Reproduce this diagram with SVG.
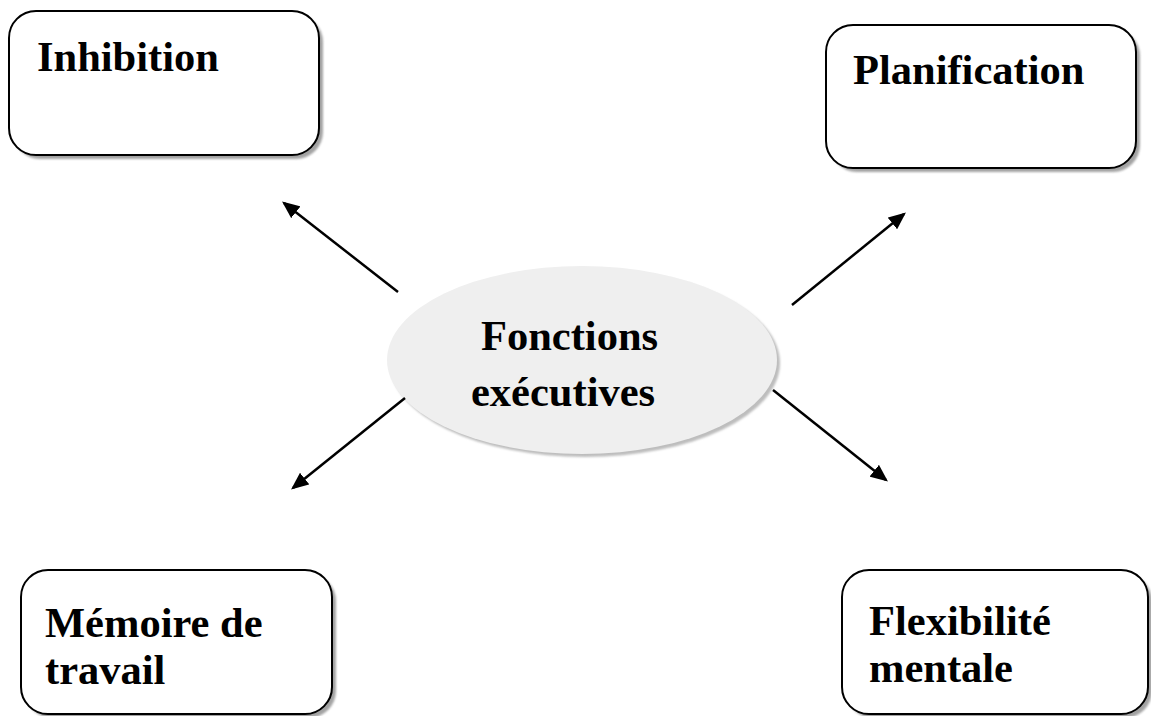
<svg xmlns="http://www.w3.org/2000/svg" width="1151" height="716" viewBox="0 0 1151 716">
<style>
.box{fill:#fff;stroke:#000;stroke-width:2}
.shadow{fill:#8c8c8c;opacity:0.8}
.lbl{font-family:"Liberation Serif","Times New Roman",serif;font-weight:bold;font-size:42.5px;fill:#000}
.conn{stroke:#000;stroke-width:2.5;fill:none;marker-end:url(#ah)}
</style>
<defs>
<marker id="ah" markerWidth="7" markerHeight="6" refX="6" refY="3" orient="auto" markerUnits="strokeWidth">
<path d="M0,0 L7,3 L0,6 Z" fill="#000"/>
</marker>
<filter id="blur" x="-10%" y="-10%" width="120%" height="120%"><feGaussianBlur stdDeviation="0.9"/></filter>
</defs>
<rect width="1151" height="716" fill="#fff"/>
<g id="inhibition">
<rect class="shadow" x="13" y="15" width="310" height="144" rx="27" filter="url(#blur)"/>
<rect class="box" x="9" y="11" width="310" height="144" rx="27"/>
<text class="lbl" x="37" y="71">Inhibition</text>
</g>
<g id="planification">
<rect class="shadow" x="830" y="29" width="310" height="143" rx="27" filter="url(#blur)"/>
<rect class="box" x="826" y="25" width="310" height="143" rx="27"/>
<text class="lbl" x="853" y="84">Planification</text>
</g>
<g id="fonctions">
<ellipse cx="585" cy="363" rx="195" ry="94" fill="#bdbdbd" filter="url(#blur)"/>
<ellipse cx="582" cy="360" rx="195" ry="94" fill="#efefef"/>
<text class="lbl" x="481" y="350">Fonctions</text>
<text class="lbl" x="471" y="406">exécutives</text>
</g>
<g id="memoire">
<rect class="shadow" x="25" y="574" width="311" height="144" rx="27" filter="url(#blur)"/>
<rect class="box" x="21" y="570" width="311" height="144" rx="27"/>
<text class="lbl" x="45" y="637">Mémoire de</text>
<text class="lbl" x="45" y="684">travail</text>
</g>
<g id="flexibilite">
<rect class="shadow" x="846" y="574" width="306" height="144" rx="27" filter="url(#blur)"/>
<rect class="box" x="842" y="570" width="306" height="144" rx="27"/>
<text class="lbl" x="869" y="635">Flexibilité</text>
<text class="lbl" x="869" y="682">mentale</text>
</g>
<g id="connectors">
<line class="conn" x1="398" y1="292" x2="284" y2="203"/>
<line class="conn" x1="792" y1="305" x2="904" y2="214"/>
<line class="conn" x1="405" y1="398" x2="293" y2="488"/>
<line class="conn" x1="773" y1="390" x2="886" y2="480"/>
</g>
</svg>
